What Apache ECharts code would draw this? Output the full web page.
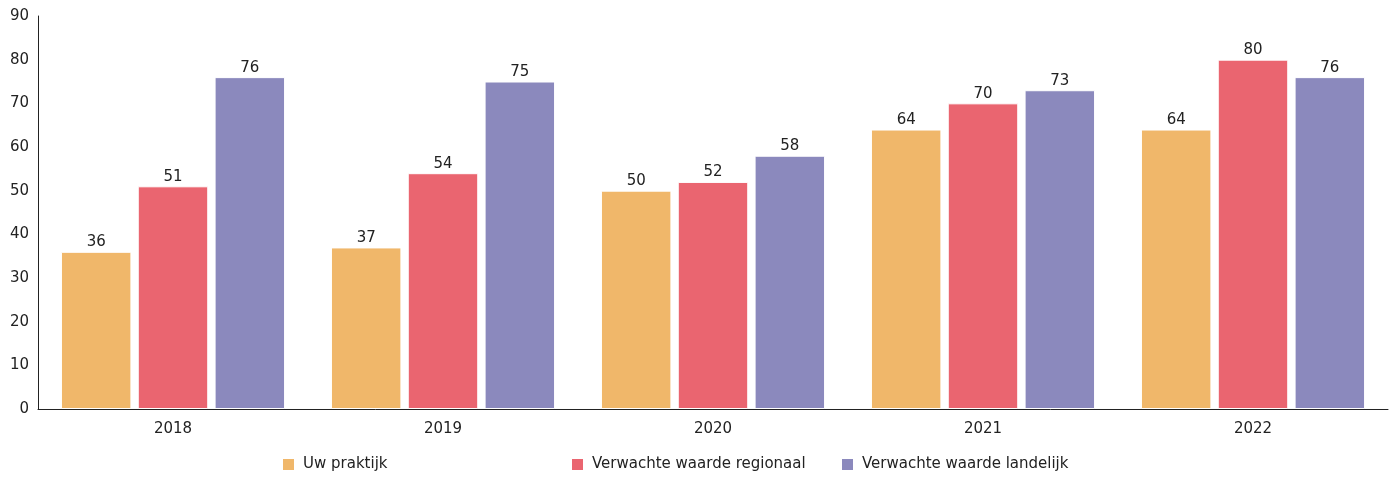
<!DOCTYPE html>
<html>
<head>
<meta charset="utf-8">
<script src="https://cdn.jsdelivr.net/npm/echarts@6/dist/echarts.min.js"></script>
<style>
  html, body { margin: 0; padding: 0; background: #fff; }
  #chart { width: 1390px; height: 478px; }
</style>
</head>
<body>
<div id="chart"></div>
<script>
const years = ['2018', '2019', '2020', '2021', '2022']
const uwPraktijk = [36, 37, 50, 64, 64]
const regionaal = [51, 54, 52, 70, 80]
const landelijk = [76, 75, 58, 73, 76]
const seriesNames = ['Uw praktijk', 'Verwachte waarde regionaal', 'Verwachte waarde landelijk']

const fontFamily = '"DejaVu Sans", sans-serif'
const chart = echarts.init(document.getElementById('chart'))

const legendLeft = [283, 572, 842]
const makeBar = (name, data) => ({
  name,
  type: 'bar',
  data,
  barGap: '9%',
  barCategoryGap: '17%',
  itemStyle: { borderColor: '#fff', borderWidth: 1 },
  label: {
    show: true,
    position: 'top',
    distance: 2,
    color: '#222',
    fontSize: 15,
    fontFamily
  }
})

chart.setOption({
  color: ['#F0B76A', '#EA6570', '#8B89BD'],
  textStyle: { fontFamily },
  grid: { left: 38, right: 2, top: 16, bottom: 69 },
  legend: seriesNames.map((name, i) => ({
    data: [name],
    left: legendLeft[i],
    top: 457,
    padding: 0,
    icon: 'rect',
    itemWidth: 11,
    itemHeight: 11,
    itemStyle: { borderWidth: 0 },
    textStyle: { fontSize: 15, color: '#222', fontFamily, padding: [0, 0, 0, 4] }
  })),
  xAxis: {
    type: 'category',
    data: years,
    axisLine: { lineStyle: { color: '#222', width: 1 } },
    axisTick: { show: false },
    axisLabel: { color: '#222', fontSize: 15, margin: 13, fontFamily }
  },
  yAxis: {
    type: 'value',
    min: 0,
    max: 90,
    interval: 10,
    axisLine: { show: true, lineStyle: { color: '#222', width: 1 } },
    axisTick: { show: false },
    splitLine: { show: false },
    axisLabel: { color: '#222', fontSize: 15, margin: 9, fontFamily }
  },
  series: [
    makeBar(seriesNames[0], uwPraktijk),
    makeBar(seriesNames[1], regionaal),
    makeBar(seriesNames[2], landelijk)
  ]
})
</script>
</body>
</html>
